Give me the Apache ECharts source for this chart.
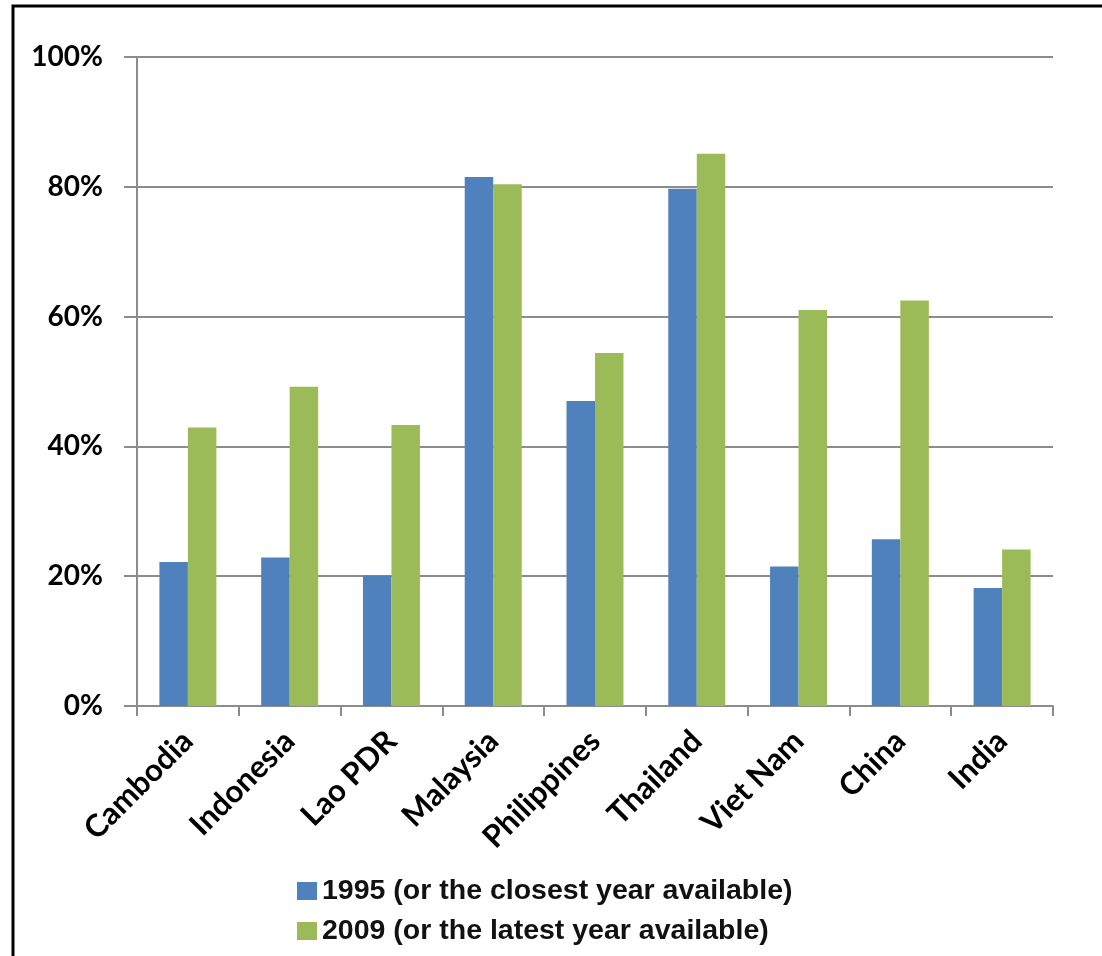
<!DOCTYPE html>
<html>
<head>
<meta charset="utf-8">
<script src="https://cdn.jsdelivr.net/npm/echarts@6/dist/echarts.min.js"></script>
<style>
  html, body { margin: 0; padding: 0; background: #fff; }
  #main { width: 1102px; height: 956px; }
</style>
</head>
<body>
<div id="main"></div>
<script>
// chart data (percent)
const countries = ['Cambodia', 'Indonesia', 'Lao PDR', 'Malaysia', 'Philippines', 'Thailand', 'Viet Nam', 'China', 'India'];
const series1995 = [22.2, 22.9, 20.1, 81.5, 47.0, 79.7, 21.5, 25.7, 18.2];
const series2009 = [42.9, 49.2, 43.3, 80.4, 54.4, 85.1, 61.0, 62.5, 24.1];
const name1995 = '1995 (or the closest year available)';
const name2009 = '2009 (or the latest year available)';

const gridColor = '#8c8c8c';
const labelFont = 'Lato, "Open Sans", sans-serif';

let myChart = echarts.init(document.getElementById('main'));
myChart.setOption({
    animation: false,
    backgroundColor: '#ffffff',
    // frame lines at left and top
    graphic: [{
        type: 'polyline',
        shape: { points: [[13, 956], [13, 6], [1102, 6]] },
        style: { stroke: '#000', lineWidth: 3, fill: null }
    }],
    grid: { left: 137, right: 49, top: 57, bottom: 250 },
    legend: {
        orient: 'vertical',
        left: 297,
        top: 876,
        padding: 0,
        itemWidth: 20,
        itemHeight: 18,
        itemGap: 10,
        icon: 'rect',
        textStyle: {
            fontFamily: '"Liberation Sans", Arial, sans-serif',
            fontWeight: 'bold',
            fontSize: 28.5,
            lineHeight: 30,
            color: '#111'
        },
        data: [name1995, name2009]
    },
    xAxis: {
        type: 'category',
        data: countries,
        axisLine: { lineStyle: { color: gridColor, width: 2 } },
        axisTick: { show: true, length: 10, lineStyle: { color: gridColor, width: 2 } },
        axisLabel: {
            rotate: 45,
            margin: 30,
            interval: 0,
            fontFamily: labelFont,
            fontWeight: 'bold',
            fontSize: 31,
            color: '#000'
        }
    },
    yAxis: {
        type: 'value',
        min: 0,
        max: 100,
        interval: 20,
        axisLine: { show: true, lineStyle: { color: gridColor, width: 2 } },
        axisTick: { show: true, length: 13, lineStyle: { color: gridColor, width: 2 } },
        splitLine: { show: true, lineStyle: { color: gridColor, width: 2 } },
        axisLabel: {
            formatter: '{value}%',
            margin: 34,
            fontFamily: labelFont,
            fontWeight: 'bold',
            fontSize: 28,
            color: '#000'
        }
    },
    series: [{
        name: name1995,
        type: 'bar',
        barGap: '0%',
        barCategoryGap: '44%',
        itemStyle: { color: '#4f81bd' },
        data: series1995
    }, {
        name: name2009,
        type: 'bar',
        barGap: '0%',
        barCategoryGap: '44%',
        itemStyle: { color: '#9bbb59' },
        data: series2009
    }]
});
</script>
</body>
</html>
